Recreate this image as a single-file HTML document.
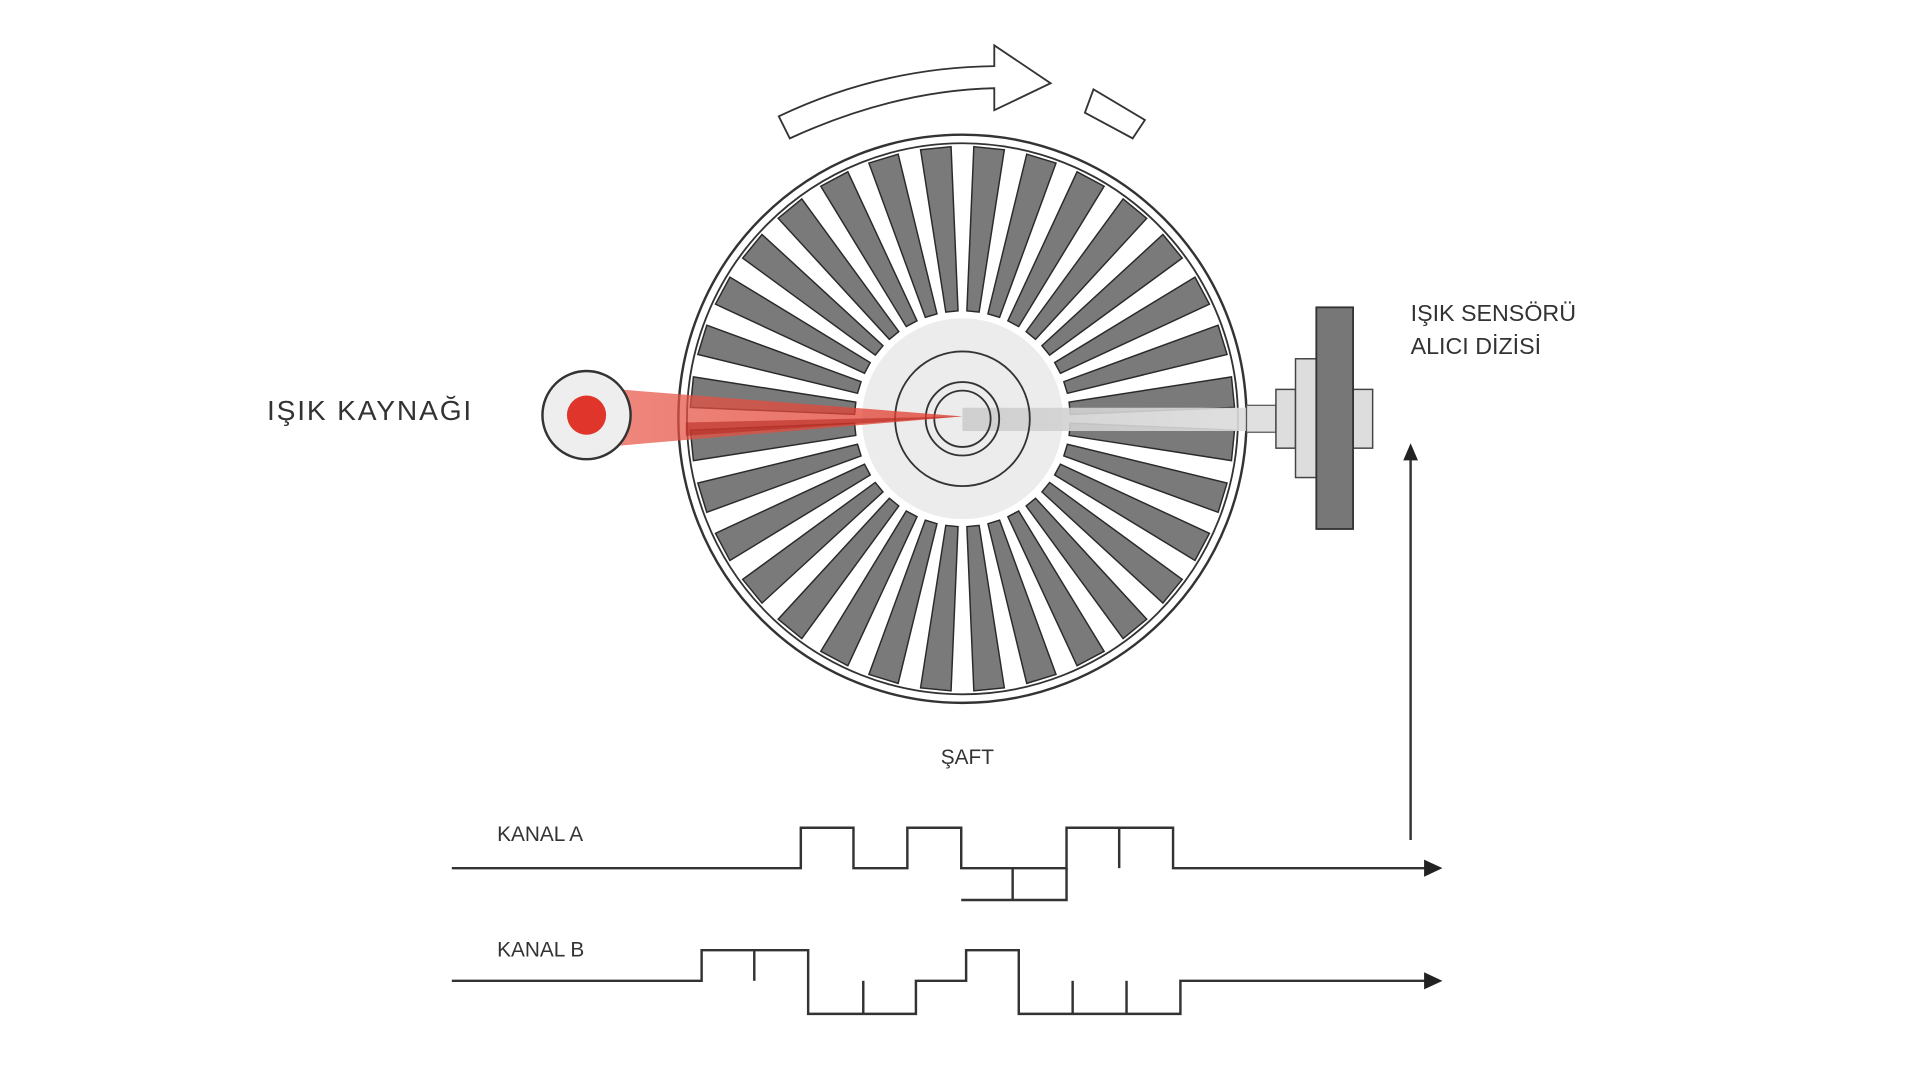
<!DOCTYPE html>
<html><head><meta charset="utf-8"><style>
html,body{margin:0;padding:0;background:#fff;width:1920px;height:1080px;overflow:hidden}
text{font-family:"Liberation Sans",sans-serif;fill:#333}
</style></head><body>
<svg width="1920" height="1080" viewBox="0 0 1568 882" xmlns="http://www.w3.org/2000/svg">
<defs>
<linearGradient id="beam" x1="0" x2="1" y1="0" y2="0"><stop offset="0" stop-color="#e8584a" stop-opacity="0.85"/><stop offset="1" stop-color="#e03a2c" stop-opacity="0.9"/></linearGradient>
<linearGradient id="shaft" x1="0" x2="1"><stop offset="0" stop-color="#ccc"/><stop offset="1" stop-color="#ddd"/></linearGradient>
</defs>
<rect width="1568" height="882" fill="#fff"/>
<path d="M636,95 Q720,55 812,54 L812,37 L858,68 L812,90 L812,72 Q730,74 645,113 Z" fill="#fff" stroke="#333" stroke-width="1.5"/>
<path d="M886,92 L893,73 L935,98 L925,113 Z" fill="#fff" stroke="#333" stroke-width="1.5"/>
<circle cx="786" cy="342" r="232" fill="#fff" stroke="#333" stroke-width="2"/>
<circle cx="786" cy="342" r="225" fill="#fff" stroke="#333" stroke-width="1.5"/>
<g id="spokes"></g>
<circle cx="786" cy="342" r="82" fill="#ececec"/>
<path d="M786,333 L1042,333 L1042,352 L786,352 Z" fill="url(#shaft)" opacity="0.9"/>
<rect x="1018" y="331" width="24" height="22" fill="#e0e0e0" stroke="#555" stroke-width="1"/>
<circle cx="786" cy="342" r="55" fill="none" stroke="#333" stroke-width="1.5"/>
<circle cx="786" cy="342" r="30" fill="none" stroke="#333" stroke-width="1.5"/>
<circle cx="786" cy="342" r="23" fill="none" stroke="#333" stroke-width="1.5"/>
<polygon points="505,318 786,340 505,364" fill="url(#beam)" opacity="0.85"/>
<polygon points="560,345 786,340 560,356" fill="#b52a22" opacity="0.6"/>
<circle cx="479" cy="339" r="36" fill="#eee" stroke="#333" stroke-width="2"/>
<circle cx="479" cy="339" r="16" fill="#e0352a"/>
<text x="218" y="343" font-size="23" letter-spacing="1.5">IŞIK KAYNAĞI</text>
<rect x="1042" y="318" width="16" height="48" fill="#ddd" stroke="#444" stroke-width="1.2"/>
<rect x="1058" y="293" width="17" height="97" fill="#ddd" stroke="#444" stroke-width="1.2"/>
<rect x="1105" y="318" width="16" height="48" fill="#ddd" stroke="#444" stroke-width="1.2"/>
<rect x="1075" y="251" width="30" height="181" fill="#777" stroke="#333" stroke-width="1.5"/>
<text x="1152" y="262" font-size="19">IŞIK SENSÖRÜ</text>
<text x="1152" y="289" font-size="19">ALICI DİZİSİ</text>
<line x1="1152" y1="686" x2="1152" y2="372" stroke="#333" stroke-width="2"/>
<polygon points="1152,362 1146,376 1158,376" fill="#222"/>
<text x="790" y="624" font-size="17" text-anchor="middle">ŞAFT</text>
<text x="406" y="687" font-size="17">KANAL A</text>
<text x="406" y="781" font-size="17">KANAL B</text>
<g fill="none" stroke="#333" stroke-width="2">
<polyline points="369,709 654,709 654,676 697,676 697,709 741,709 741,676 785,676 785,709 871,709 871,676 958,676 958,709 1168,709"/>
<polyline points="785,735 871,735 871,709"/>
<line x1="827" y1="709" x2="827" y2="735"/>
<line x1="914" y1="676" x2="914" y2="709"/>
<polyline points="369,801 573,801 573,776 660,776 660,828 748,828 748,801 789,801 789,776 832,776 832,828 964,828 964,801 1168,801"/>
<line x1="616" y1="776" x2="616" y2="801"/>
<line x1="705" y1="801" x2="705" y2="828"/>
<line x1="876" y1="801" x2="876" y2="828"/>
<line x1="920" y1="801" x2="920" y2="828"/>
</g>
<polygon points="1178,709 1163,702 1163,716" fill="#222"/>
<polygon points="1178,801 1163,794 1163,808" fill="#222"/>
</svg>
<script>
(function(){
var g=document.getElementById('spokes'),cx=786,cy=342,n=32,ri=88,ro=222,hi=5,ho=12.5,s='';
for(var i=0;i<n;i++){var a=(i+0.5)*2*Math.PI/n,c=Math.cos(a),si=Math.sin(a),px=-si,py=c;
var p=[[cx+c*ri+px*hi,cy+si*ri+py*hi],[cx+c*ro+px*ho,cy+si*ro+py*ho],[cx+c*ro-px*ho,cy+si*ro-py*ho],[cx+c*ri-px*hi,cy+si*ri-py*hi]];
s+='<polygon points="'+p.map(function(q){return q[0].toFixed(1)+','+q[1].toFixed(1)}).join(' ')+'" fill="#7a7a7a" stroke="#2a2a2a" stroke-width="1.2"/>';}
g.innerHTML=s;})();
</script>
</body></html>
